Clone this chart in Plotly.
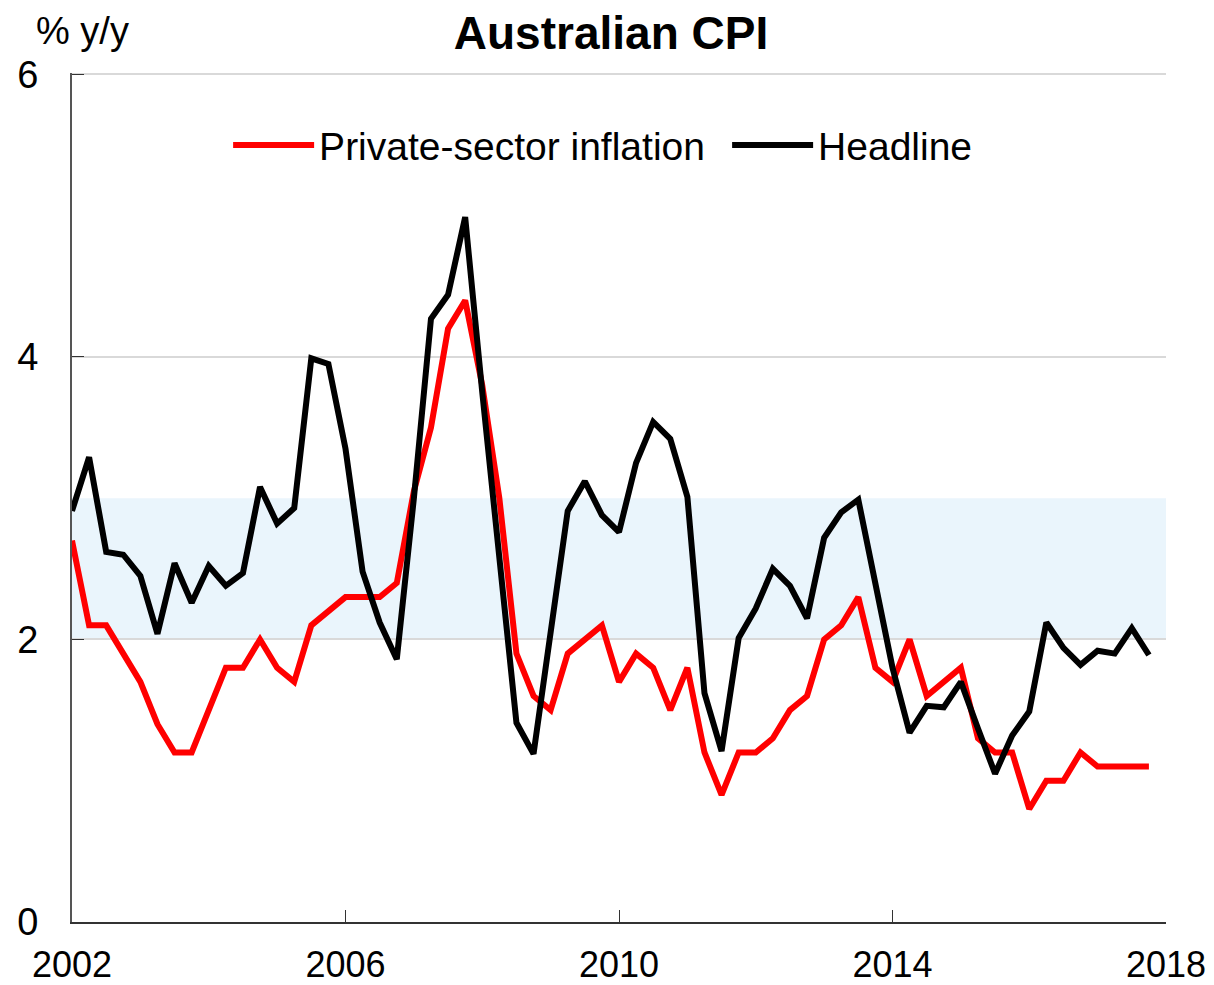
import plotly.graph_objects as go

# quarterly observations, first one plotted at 2002.0
quarters = [2002 + q / 4 for q in range(64)]

headline = [2.91, 3.29, 2.62, 2.60, 2.45, 2.04, 2.54, 2.26, 2.52, 2.38,
            2.47, 3.08, 2.82, 2.93, 3.99, 3.95, 3.35, 2.48, 2.12, 1.86,
            3.00, 4.27, 4.44, 4.99, 3.75, 2.55, 1.41, 1.19, 2.05, 2.91,
            3.12, 2.88, 2.76, 3.25, 3.54, 3.42, 3.01, 1.62, 1.21, 2.01,
            2.22, 2.50, 2.38, 2.15, 2.72, 2.90, 2.99, 2.40, 1.80, 1.34,
            1.53, 1.52, 1.70, 1.37, 1.05, 1.32, 1.49, 2.12, 1.94, 1.82,
            1.92, 1.90, 2.08, 1.89]

private_sector = [2.7, 2.1, 2.1, 1.9, 1.7, 1.4, 1.2, 1.2, 1.5, 1.8,
                  1.8, 2.0, 1.8, 1.7, 2.1, 2.2, 2.3, 2.3, 2.3, 2.4,
                  3.05, 3.5, 4.2, 4.4, 3.8, 3.0, 1.9, 1.6, 1.5, 1.9,
                  2.0, 2.1, 1.7, 1.9, 1.8, 1.5, 1.8, 1.2, 0.9, 1.2,
                  1.2, 1.3, 1.5, 1.6, 2.0, 2.1, 2.3, 1.8, 1.7, 2.0,
                  1.6, 1.7, 1.8, 1.3, 1.2, 1.2, 0.8, 1.0, 1.0, 1.2,
                  1.1, 1.1, 1.1, 1.1]

# RBA target band
band_low = 2
band_high = 3

year_ticks = [2002, 2006, 2010, 2014, 2018]
y_ticks = [0, 2, 4, 6]

font_name = "Liberation Sans, Arial, sans-serif"

fig = go.Figure()
fig.add_trace(go.Scatter(x=quarters, y=private_sector, mode="lines",
                         name="Private-sector inflation",
                         line=dict(color="#FF0000", width=6)))
fig.add_trace(go.Scatter(x=quarters, y=headline, mode="lines",
                         name="Headline",
                         line=dict(color="#000000", width=6)))

fig.add_hrect(y0=band_low, y1=band_high, fillcolor="#EAF5FC",
              line_width=0, layer="below")

# page body has an 8px margin, so the figure is a bit smaller than the window
fig.update_layout(
    width=1206, height=977,
    margin=dict(l=64, r=48, t=65, b=63, autoexpand=False),
    paper_bgcolor="white", plot_bgcolor="white",
    font=dict(family=font_name, size=38, color="black"),
    title=dict(text="<b>Australian CPI</b>", x=0.5, xanchor="center",
               y=0.9744, yanchor="middle", yref="container",
               font=dict(size=46, color="black")),
    showlegend=True,
    legend=dict(orientation="h", x=0.1427, xanchor="left", y=0.915,
                yanchor="middle", bgcolor="rgba(0,0,0,0)",
                font=dict(size=39), itemwidth=81, entrywidth=403),
    annotations=[dict(text="% y/y", xref="paper", yref="paper",
                      x=0.01, y=1.05, xanchor="center", yanchor="middle",
                      showarrow=False, font=dict(size=38))],
)

fig.update_xaxes(range=[2002, 2018], tickvals=year_ticks,
                 ticks="inside", ticklen=12, tickcolor="#333333",
                 showline=True, linecolor="#333333", linewidth=2,
                 showgrid=False, zeroline=False, ticklabelstandoff=10,
                 tickfont=dict(size=36), automargin=False)
fig.update_yaxes(range=[0, 6.01], tickvals=y_ticks,
                 ticks="inside", ticklen=12, tickcolor="#333333",
                 showline=True, linecolor="#555555", linewidth=2,
                 showgrid=True, gridcolor="#D9D9D9", gridwidth=1.5,
                 zeroline=False, ticklabelstandoff=24, automargin=False)

fig.write_html("out.html")
